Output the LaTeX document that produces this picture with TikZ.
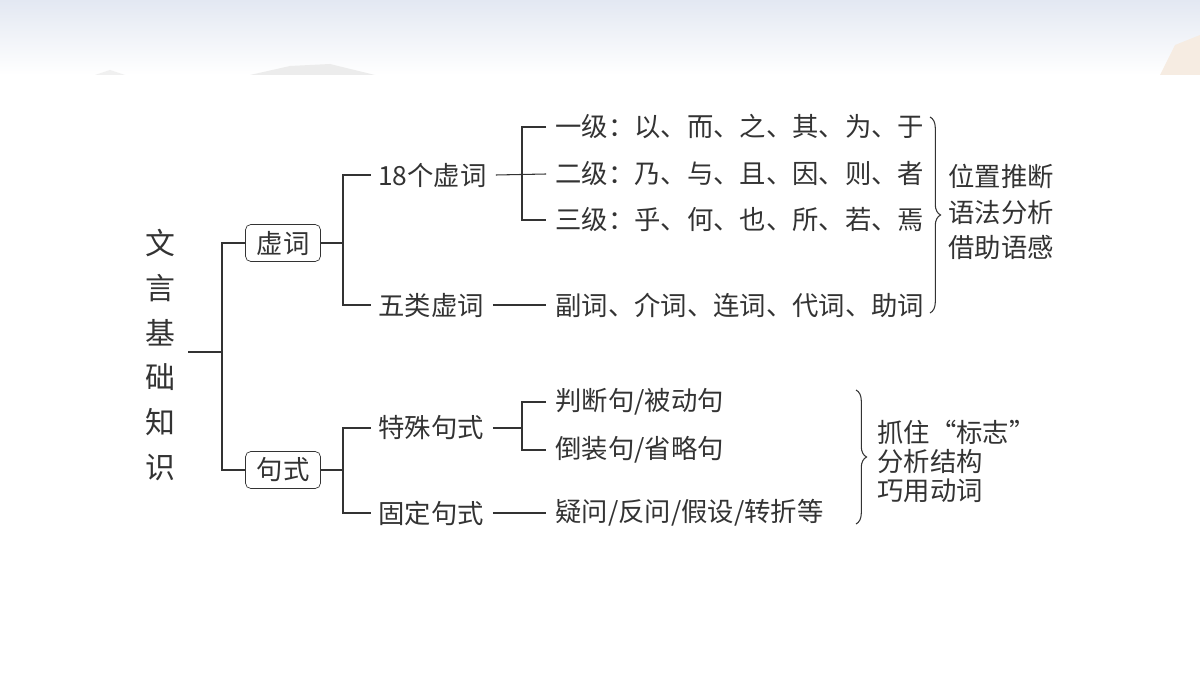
\documentclass[tikz,border=0pt]{standalone}
\usepackage{fontspec}
\setmainfont{Noto Sans CJK SC}
\usetikzlibrary{positioning,decorations.pathreplacing}
\definecolor{inkgray}{HTML}{333333}
\definecolor{skyblue}{HTML}{E3E8F2}
\begin{document}
\begin{tikzpicture}
  [x=0.02cm,y=-0.02cm,
   tx/.style={anchor=west,inner sep=0pt,font=\fontsize{15}{17}\selectfont,text=inkgray},
   bx/.style={draw=inkgray,rounded corners=3pt,minimum width=1.5cm,minimum height=0.74cm,
     inner sep=0pt,font=\fontsize{15}{17}\selectfont,text=inkgray},
   ln/.style={draw=inkgray,line width=0.6pt},
   br/.style={ln,decorate,decoration={brace,amplitude=6pt}}]

  % background banner
  \useasboundingbox (0,0) rectangle (1200,675);
  \shade[top color=skyblue,bottom color=white] (0,0) rectangle (1200,75);
  \fill[gray!12] (95,75) -- (110,70) -- (125,75) -- cycle;
  \fill[gray!15] (250,75) -- (290,66) -- (330,64) -- (375,75) -- cycle;
  \fill[brown!15] (1160,75) -- (1175,45) -- (1200,35) -- (1200,75) -- cycle;

  % root
  \node (root) [text=inkgray,align=center,font=\fontsize{17}{25.5}\selectfont] at (160,355)
    {文\\言\\基\\础\\知\\识};
  \node (xuci) [bx] at (283,243) {虚词};
  \node (jushi)[bx] at (283,470) {句式};
  \coordinate (r0) at (188,352); \coordinate (r1) at (222,352);
  \draw[ln] (r0) -- (r1) (xuci.west) -| (r1) |- (jushi.west);

  % 虚词
  \node (n18) [tx] at (378,175) {18个虚词};
  \node (wulei)[tx] at (378,305) {五类虚词};
  \coordinate (x1) at (343,243);
  \draw[ln] (xuci.east) -- (x1) (n18.west) ++(-4pt,0) -| (x1) |- ([xshift=-4pt]wulei.west);
  \node (yiji) [tx] at (555,127) {一级：以、而、之、其、为、于};
  \node (erji) [tx] at (555,174) {二级：乃、与、且、因、则、者};
  \node (sanji)[tx] at (555,220) {三级：乎、何、也、所、若、焉};
  \coordinate (x2) at (522,175);
  \draw[ln] ([xshift=5pt]n18.east) -- ([xshift=-5pt]erji.west);
  \draw[ln] ([xshift=-5pt]yiji.west) -| (x2) |- ([xshift=-5pt]sanji.west);
  \node (fuci)[tx] at (555,305) {副词、介词、连词、代词、助词};
  \draw[ln] ([xshift=5pt]wulei.east) -- ([xshift=-5pt]fuci.west);
  \draw[br] (930,117) -- (930,313);
  \node (weizhi)[tx,align=left,font=\fontsize{15}{20}\selectfont] at (948,212)
    {位置推断\\语法分析\\借助语感};

  % 句式
  \node (teshu)[tx] at (378,428) {特殊句式};
  \node (guding)[tx] at (378,513) {固定句式};
  \coordinate (y1) at (343,470);
  \draw[ln] (jushi.east) -- (y1) (teshu.west) ++(-4pt,0) -| (y1) |- ([xshift=-4pt]guding.west);
  \node (panduan)[tx] at (555,402) {判断句/被动句};
  \node (daozhuang)[tx] at (555,450) {倒装句/省略句};
  \coordinate (y2) at (522,428);
  \draw[ln] ([xshift=5pt]teshu.east) -- (y2);
  \draw[ln] ([xshift=-5pt]panduan.west) -| (y2) |- ([xshift=-5pt]daozhuang.west);
  \node (yiwen)[tx] at (555,513) {疑问/反问/假设/转折等};
  \draw[ln] ([xshift=5pt]guding.east) -- ([xshift=-5pt]yiwen.west);
  \draw[br] (856,390) -- (856,524);
  \node (zhuazhu)[tx,align=left,font=\fontsize{15}{16.5}\selectfont] at (877,461)
    {抓住“标志”\\分析结构\\巧用动词};
\end{tikzpicture}
\end{document}
